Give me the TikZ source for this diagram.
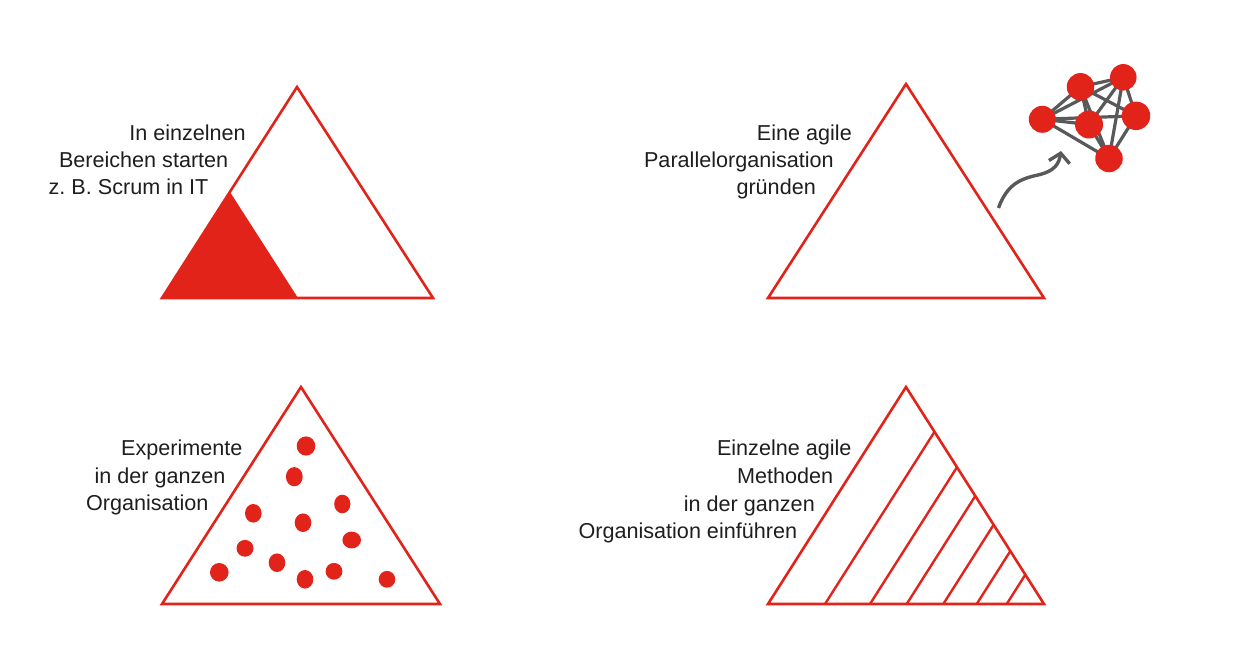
\documentclass[tikz,border=0pt]{standalone}
\usepackage{fontspec}
\setmainfont{Liberation Sans}
\usetikzlibrary{arrows.meta}
\definecolor{agred}{HTML}{E2231A}
\definecolor{netgray}{HTML}{595959}
\definecolor{txt}{HTML}{1E1E1E}
\pgfdeclarelayer{bg}
\pgfsetlayers{bg,main}
\frenchspacing
\begin{document}
\begin{tikzpicture}[x=1pt,y=-1pt,
  lbl/.style={anchor=base east,inner sep=0pt,text=txt,font=\fontsize{21.6}{26}\selectfont},
  tri/.style={draw=agred,line width=2.6,line join=miter},
  hatch/.style={draw=agred,line width=2.4},
  dot/.style={fill=agred},
  netnode/.style={circle,fill=agred,inner sep=0pt},
  netedge/.style={draw=netgray,line width=3.2},
  arrowline/.style={draw=netgray,line width=3.4,-{Straight Barb[length=9,width=21]}}]
\useasboundingbox (0,0) rectangle (1248,649);

% ---- Triangle 1 ----
\fill[agred] (162,298) -- (230,192) -- (298,298) -- cycle;
\draw[tri] (297,87) -- (162,298) -- (433,298) -- cycle;
\node[lbl] (t1a) at (246,140) {In einzelnen};
\node[lbl] (t1b) at (228.5,167.5) {Bereichen starten};
\node[lbl] (t1c) at (208.5,194.5) {z. B. Scrum in IT};

% ---- Triangle 2 ----
\draw[tri] (906,84) -- (768,298) -- (1044,298) -- cycle;
\node[lbl] (t2a) at (852,140) {Eine agile};
\node[lbl] (t2b) at (834,167.3) {Parallelorganisation};
\node[lbl] (t2c) at (816,194.3) {gründen};

% network
\node[netnode,minimum size=27.5] (nA) at (1080.5,86.8) {};
\node[netnode,minimum size=26.5] (nB) at (1123.3,77.3) {};
\node[netnode,minimum size=27] (nC) at (1042.3,119.3) {};
\node[netnode,minimum size=28] (nD) at (1089,124.5) {};
\node[netnode,minimum size=28.5] (nE) at (1136,115.8) {};
\node[netnode,minimum size=27.5] (nF) at (1109,158.5) {};
\begin{pgfonlayer}{bg}
\foreach \a/\b in {nA/nB,nA/nC,nA/nD,nA/nE,nA/nF,nB/nC,nB/nD,nB/nE,nB/nF,nC/nD,nC/nE,nC/nF,nD/nF,nE/nF}
  \draw[netedge] (\a.center) -- (\b.center);
\end{pgfonlayer}

% arrow
\coordinate (arrS) at (998.5,208);
\coordinate (arrE) at (1061,151);
\draw[arrowline] (arrS) .. controls (1008,181) and (1025,178) .. (1040,174.5)
  .. controls (1054,171) and (1059,164) .. (arrE);

% ---- Triangle 3 ----
\draw[tri] (301,387) -- (162,604) -- (440,604) -- cycle;
\node[lbl] (t3a) at (242.7,455) {Experimente};
\node[lbl] (t3b) at (225.7,483) {in der ganzen};
\node[lbl] (t3c) at (208.7,510) {Organisation};
\fill[dot] (306,446) ellipse [x radius=9.3,y radius=9.6];
\fill[dot] (294.3,476.7) ellipse [x radius=8.4,y radius=9.6];
\fill[dot] (342.3,504) ellipse [x radius=8.1,y radius=9.3];
\fill[dot] (253.3,513.3) ellipse [x radius=8.3,y radius=9.3];
\fill[dot] (303,522.7) ellipse [x radius=8.3,y radius=9.3];
\fill[dot] (351.7,540) ellipse [x radius=9.3,y radius=8.4];
\fill[dot] (245,548.3) ellipse [x radius=8.5,y radius=8.4];
\fill[dot] (277,562.7) ellipse [x radius=8.3,y radius=9.3];
\fill[dot] (219.3,572.3) ellipse [x radius=9.3,y radius=9.3];
\fill[dot] (334,571.3) ellipse [x radius=8.4,y radius=8.4];
\fill[dot] (305,579.3) ellipse [x radius=8.3,y radius=9.3];
\fill[dot] (387,579.3) ellipse [x radius=8.3,y radius=8.4];

% ---- Triangle 4 ----
\draw[tri] (906,387) -- (768,604) -- (1044,604) -- cycle;
\draw[hatch] (825,604) -- (934.5,431.8);
\draw[hatch] (870,604) -- (957,467.2);
\draw[hatch] (906.7,604) -- (975.3,496);
\draw[hatch] (943.3,604) -- (993.6,524.8);
\draw[hatch] (976.7,604) -- (1010.3,551.1);
\draw[hatch] (1006.7,604) -- (1025.3,574.7);
\node[lbl] (t4a) at (851.7,455.7) {Einzelne agile};
\node[lbl] (t4b) at (833.3,483.3) {Methoden};
\node[lbl] (t4c) at (815,511) {in der ganzen};
\node[lbl] (t4d) at (797.3,538.3) {Organisation einführen};
\end{tikzpicture}
\end{document}
